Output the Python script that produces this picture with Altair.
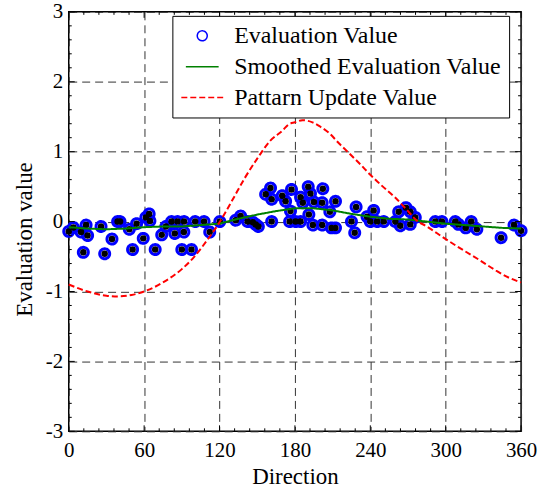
import altair as alt
import pandas as pd

# ---- data ----
point_dir = [0, 3.7, 9.8, 11.6, 13.8, 15, 25.7, 28.6, 34.4, 38.9, 40.8, 48.2, 50.8, 54, 59.3,
             61.4, 64, 64.6, 68.8, 74, 77.3, 81.8, 84.4, 86.6, 90, 91.6, 91.8, 97.7, 100.6,
             107.7, 112.2, 120.2, 132.9, 136.8, 142.4, 146.6, 148.8, 150.9, 161.5, 156.7,
             160.6, 161.5, 169.9, 172.6, 177.3, 176.5, 175.8, 180.5, 184.5, 184.5, 186.3,
             190.6, 192.4, 191.1, 194.3, 195.1, 202.2, 201.7, 201.7, 209.1, 212.3, 207.8,
             212.3, 225, 227.6, 228.7, 237.4, 240, 242.7, 245.4, 250.7, 259.9, 262.6, 263.9,
             268.4, 271.8, 271.8, 275.8, 291.7, 297, 307.6, 310.2, 316, 320.3, 324.8, 344.1,
             354.4, 360]
point_val = [-0.14, -0.085, -0.15, -0.44, -0.05, -0.2, -0.07, -0.46, -0.25, 0.0, 0.0, -0.11,
             -0.40, -0.03, -0.24, 0.06, 0.11, 0.01, -0.40, -0.19, -0.07, 0.0, -0.17, 0.0,
             -0.40, -0.15, 0.0, -0.40, 0.0, 0.0, -0.15, 0.0, 0.02, 0.08, 0.0, -0.01, -0.04,
             -0.07, 0.0, 0.39, 0.48, 0.32, 0.37, 0.29, 0.46, 0.15, 0.0, 0.0, 0.0, 0.35, 0.27,
             0.50, 0.40, 0.10, -0.05, 0.28, 0.47, 0.27, -0.05, -0.09, -0.09, 0.14, 0.29, 0.0,
             -0.16, 0.21, 0.07, 0.0, 0.16, 0.0, 0.0, 0.0, 0.14, -0.06, 0.20, 0.14, -0.04,
             0.06, 0.0, 0.0, 0.0, -0.04, -0.09, 0.0, -0.11, -0.23, -0.05, -0.13]

smooth_dir = [0, 15, 30, 45, 60, 75, 90, 105, 120, 135, 150, 165, 180, 195, 210, 225, 240,
              255, 270, 285, 300, 315, 330, 345, 360]
smooth_val = [-0.08, -0.10, -0.11, -0.10, -0.08, -0.07, -0.07, -0.05, -0.03, 0.04, 0.10, 0.15,
              0.19, 0.19, 0.16, 0.11, 0.07, 0.04, 0.03, 0.0, -0.03, -0.05, -0.07, -0.09, -0.10]

pattern_dir = [0, 15, 30, 40, 50, 60, 75, 90, 100, 110, 120, 130, 140, 150, 160, 170, 175, 180,
               186, 194, 200, 207, 215, 223, 232, 240, 250, 260, 270, 276, 285, 300, 315, 326,
               340, 350, 360]
pattern_val = [-0.90, -1.00, -1.06, -1.07, -1.05, -1.00, -0.87, -0.68, -0.50, -0.27, -0.01,
               0.30, 0.62, 0.90, 1.15, 1.30, 1.39, 1.42, 1.45, 1.42, 1.36, 1.27, 1.12, 0.98,
               0.82, 0.67, 0.50, 0.34, 0.15, 0.03, -0.07, -0.25, -0.42, -0.54, -0.70, -0.80,
               -0.87]

series_names = ["Evaluation Value", "Smoothed Evaluation Value", "Pattarn Update Value"]
x_major = [0, 60, 120, 180, 240, 300, 360]
y_major = [-3, -2, -1, 0, 1, 2, 3]
x_minor = [v for v in range(0, 361, 12) if v % 60 != 0]
y_minor = [round(-3 + 0.2 * i, 1) for i in range(31) if i % 5 != 0]

W, H = 454, 421
FONT = "Liberation Serif"
MAJ, MIN = 6, 3

pts = pd.DataFrame({"dir": point_dir, "val": point_val, "series": series_names[0]})
smooth = pd.DataFrame({"dir": smooth_dir, "val": smooth_val, "series": series_names[1]})
pattern = pd.DataFrame({"dir": pattern_dir, "val": pattern_val, "series": series_names[2]})

xscale = alt.Scale(domain=[0, 360], nice=False, zero=False)
yscale = alt.Scale(domain=[-3, 3], nice=False, zero=False)

legend = alt.Legend(
    orient="none", legendX=104, legendY=4, title=None,
    fillColor="white", strokeColor="black", padding=8,
    labelFont=FONT, labelFontSize=24, labelColor="black", labelLimit=500,
    symbolOffset=10, labelOffset=20, rowPadding=7,
)
color = alt.Color("series:N", scale=alt.Scale(domain=series_names,
                  range=["#0000ff", "#008000", "#ff0000"]), legend=legend)
shape = alt.Shape("series:N", scale=alt.Scale(domain=series_names,
                  range=["circle", "M-2,0H2", "M-2,0H2"]), legend=legend)
size = alt.Size("series:N", scale=alt.Scale(domain=series_names,
                range=[100, 441, 441]), legend=legend)
dash = alt.StrokeDash("series:N", scale=alt.Scale(domain=series_names,
                      range=[[1, 0], [1, 0], [6, 3]]), legend=legend)

lab_x = alt.Axis(values=x_major, title="Direction", labelFont=FONT, labelFontSize=21,
                 titleFont=FONT, titleFontSize=23, titleFontWeight="normal", labelColor="black",
                 titleColor="black", tickSize=0, domain=False, grid=True, labelFlush=False,
                 gridDash=[8, 5], gridColor="#333333", labelPadding=8, titlePadding=5)
lab_y = alt.Axis(values=y_major, title="Evaluation value", labelFont=FONT, labelFontSize=21,
                 titleFont=FONT, titleFontSize=23, titleFontWeight="normal", labelColor="black",
                 titleColor="black", tickSize=0, domain=False, grid=True, labelFlush=False,
                 gridDash=[8, 5], gridColor="#333333", labelPadding=6, titlePadding=9,
                 labelExpr="'' + datum.value", titleY=228)

X = lambda f: alt.X(f, scale=xscale, axis=lab_x)
Y = lambda f: alt.Y(f, scale=yscale, axis=lab_y)


def xticks(vals, edge, length):
    d = pd.DataFrame({"dir": vals})
    return alt.Chart(d).mark_rule(color="black", strokeWidth=1).encode(
        x=X("dir:Q"),
        y=alt.value(edge), y2=alt.value(edge + length if edge == 0 else edge - length),
    )


def yticks(vals, edge, length):
    d = pd.DataFrame({"val": vals})
    return alt.Chart(d).mark_rule(color="black", strokeWidth=1).encode(
        y=Y("val:Q"),
        x=alt.value(edge), x2=alt.value(edge + length if edge == 0 else edge - length),
    )


rings = alt.Chart(pts).mark_point(filled=False, strokeWidth=3, opacity=1).encode(
    x=X("dir:Q"), y=Y("val:Q"),
    color=color, shape=shape, size=size, strokeDash=dash,
)
dots = alt.Chart(pts).mark_circle(color="black", size=42, opacity=1).encode(
    x=X("dir:Q"), y=Y("val:Q"),
)
green = alt.Chart(smooth).mark_line(strokeWidth=2).encode(
    x=X("dir:Q"), y=Y("val:Q"),
    color=color, strokeDash=dash,
)
red = alt.Chart(pattern).mark_line(strokeWidth=2, interpolate="monotone").encode(
    x=X("dir:Q"), y=Y("val:Q"),
    color=color, strokeDash=dash,
)

ticks = [
    xticks(x_major, H, MAJ), xticks(x_minor, H, MIN),
    xticks(x_major, 0, MAJ), xticks(x_minor, 0, MIN),
    yticks(y_major, 0, MAJ), yticks(y_minor, 0, MIN),
    yticks(y_major, W, MAJ), yticks(y_minor, W, MIN),
]

chart = alt.layer(rings, dots, green, red, *ticks).properties(
    width=W, height=H, padding={"left": 13, "top": 0, "right": 5, "bottom": 2},
    background="white",
).configure_view(stroke="black", strokeWidth=1.5)

chart.save("out.html", embed_options={"renderer": "svg", "actions": False})
